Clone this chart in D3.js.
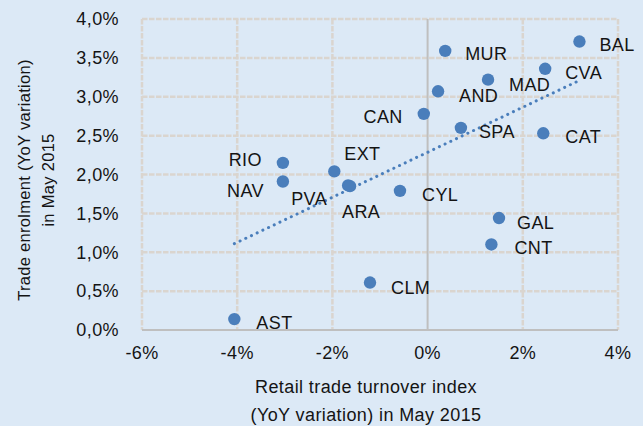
<!DOCTYPE html>
<html lang="en">
<head>
<meta charset="utf-8">
<style type="text/css">
    body { margin: 0; background: #dce9f6; }
    svg { display: block; font-family: "Liberation Sans", Arial, sans-serif; }
    .grid { stroke: #dad5cf; stroke-width: 2.5px; stroke-dasharray: 5.5 1.5; }
    .zero { stroke: #bfbfbf; stroke-width: 2px; }
    .tick-label, .dot-label, .title { fill: #141414; font-size: 18px; letter-spacing: 0.4px; }
    .ytitle { font-size: 16.5px; letter-spacing: 0.3px; }
</style>
</head>
<body>
<svg width="643" height="426"></svg>

<script src="https://cdn.jsdelivr.net/npm/d3@7"></script>
<script type="text/javascript">
    // region codes, retail trade turnover (x, %) and trade enrolment (y, %)
    var regions = ["AST", "RIO", "NAV", "PVA", "ARA", "EXT", "CLM", "CYL", "CAN",
                   "AND", "MUR", "SPA", "MAD", "CNT", "GAL", "CAT", "CVA", "BAL"];
    var retail = [-4.06, -3.04, -3.04, -1.67, -1.63, -1.96, -1.21, -0.58, -0.08,
                  0.22, 0.37, 0.70, 1.27, 1.34, 1.50, 2.43, 2.47, 3.19];
    var enrol = [0.14, 2.15, 1.91, 1.86, 1.85, 2.04, 0.61, 1.79, 2.78,
                 3.07, 3.59, 2.60, 3.22, 1.10, 1.44, 2.53, 3.36, 3.71];

    // linear trend line ends
    var trendX = [-4.06, 3.19];
    var trendY = [1.11, 3.21];

    var xTicks = [-6, -4, -2, 0, 2, 4];
    var yTicks = [0, 0.5, 1, 1.5, 2, 2.5, 3, 3.5, 4];

    // label placement next to each dot: dx, dy, anchor
    var labelPos = {
        MUR: [20, 9, "start"], BAL: [20, 9, "start"], CVA: [20, 10, "start"],
        MAD: [21, 11, "start"], AND: [21, 11, "start"], CAN: [-21, 9, "end"],
        SPA: [18, 10, "start"], CAT: [22, 10, "start"], EXT: [10, -11, "start"],
        CYL: [22, 10, "start"], RIO: [-21, 3, "end"], NAV: [-19, 16, "end"],
        PVA: [-21, 20, "end"], ARA: [-8, 32, "start"], AST: [22, 10, "start"],
        GAL: [18, 11, "start"], CNT: [23, 10, "start"], CLM: [21, 11, "start"]
    };

    var svg = d3.select("svg"),
        margin = {top: 19, left: 142, right: 25, bottom: 96},
        width = 643 - margin.left - margin.right,
        height = 426 - margin.top - margin.bottom;

    var x = d3.scaleLinear().domain([-6, 4]).range([0, width]);
    var y = d3.scaleLinear().domain([0, 4]).range([height, 0]);

    var fmt = function (v) { return d3.format(".1f")(v).replace(".", ",") + "%"; };

    var g = svg.append("g")
        .attr("transform", "translate(" + margin.left + "," + margin.top + ")");

    // dashed grid (includes the plot border)
    g.selectAll(".hgrid")
        .data(yTicks.filter(function (d) { return d > 0; }))
        .enter().append("line")
        .attr("class", "grid")
        .attr("x1", 0).attr("x2", width)
        .attr("y1", function (d) { return y(d); })
        .attr("y2", function (d) { return y(d); });

    g.selectAll(".vgrid")
        .data(xTicks.filter(function (d) { return d !== 0; }))
        .enter().append("line")
        .attr("class", "grid")
        .attr("y1", 0).attr("y2", height)
        .attr("x1", function (d) { return x(d); })
        .attr("x2", function (d) { return x(d); });

    // axis lines at zero
    g.append("line").attr("class", "zero")
        .attr("x1", x(0)).attr("x2", x(0))
        .attr("y1", 0).attr("y2", height);
    g.append("line").attr("class", "zero")
        .attr("x1", 0).attr("x2", width)
        .attr("y1", y(0)).attr("y2", y(0));

    // tick labels
    g.selectAll(".ytick")
        .data(yTicks)
        .enter().append("text")
        .attr("class", "tick-label")
        .attr("x", -23)
        .attr("y", function (d) { return y(d); })
        .attr("dy", "0.35em")
        .attr("text-anchor", "end")
        .text(fmt);

    g.selectAll(".xtick")
        .data(xTicks)
        .enter().append("text")
        .attr("class", "tick-label")
        .attr("x", function (d) { return x(d); })
        .attr("y", height + 29)
        .attr("text-anchor", "middle")
        .text(function (d) { return d + "%"; });

    // trend line
    var trend = trendX.map(function (d, i) { return [d, trendY[i]]; });
    g.append("path")
        .datum(trend)
        .attr("fill", "none")
        .attr("stroke", "#4a7ebb")
        .attr("stroke-width", 3)
        .attr("stroke-linecap", "round")
        .attr("stroke-dasharray", "0.1 6.2")
        .attr("d", d3.line()
            .x(function (d) { return x(d[0]); })
            .y(function (d) { return y(d[1]); }));

    // points
    var pts = regions.map(function (r, i) { return {name: r, x: retail[i], y: enrol[i]}; });

    g.selectAll(".dot")
        .data(pts)
        .enter().append("circle")
        .attr("cx", function (d) { return x(d.x); })
        .attr("cy", function (d) { return y(d.y); })
        .attr("r", 6.2)
        .attr("fill", "#4a7ebb");

    g.selectAll(".dot-label")
        .data(pts)
        .enter().append("text")
        .attr("class", "dot-label")
        .attr("x", function (d) { return x(d.x) + labelPos[d.name][0]; })
        .attr("y", function (d) { return y(d.y) + labelPos[d.name][1]; })
        .attr("text-anchor", function (d) { return labelPos[d.name][2]; })
        .text(function (d) { return d.name; });

    // axis titles
    var xt = svg.append("text")
        .attr("class", "title")
        .attr("text-anchor", "middle");
    xt.append("tspan").attr("x", 366).attr("y", 393).text("Retail trade turnover index");
    xt.append("tspan").attr("x", 366).attr("y", 421).text("(YoY variation) in May 2015");

    var yt = svg.append("text")
        .attr("class", "title ytitle")
        .attr("text-anchor", "middle")
        .attr("transform", "translate(0,180) rotate(-90)");
    yt.append("tspan").attr("x", 0).attr("y", 30).text("Trade enrolment (YoY variation)");
    yt.append("tspan").attr("x", 0).attr("y", 54).text("in May 2015");
</script>
</body>
</html>
